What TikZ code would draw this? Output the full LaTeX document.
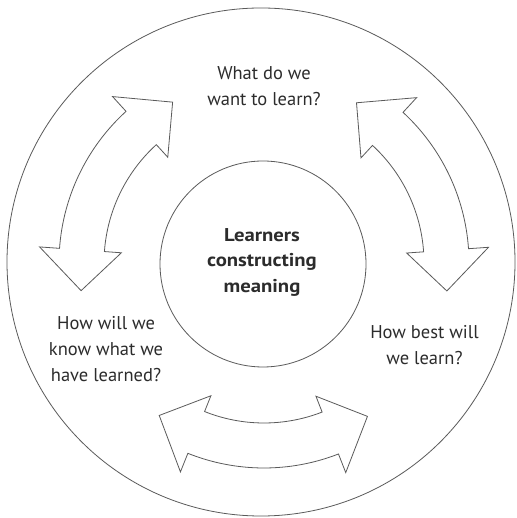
\documentclass[tikz,border=0pt]{standalone}
\usepackage{fontspec}
\setmainfont{PT Sans}
\newfontfamily\corefont[FakeStretch=1.12]{PT Sans Bold}
\definecolor{linegray}{HTML}{5A5A5A}
\definecolor{textgray}{HTML}{2C2C2C}
\tikzset{
  arrowline/.style={draw=linegray, line width=0.8pt, line join=miter},
  ringline/.style={draw=linegray, line width=0.8pt},
  question/.style={align=center, text=textgray, font=\fontsize{18.5}{26}\selectfont, inner sep=0pt},
  core/.style={align=center, text=textgray, font=\corefont\fontsize{18.5}{25.5}\selectfont, inner sep=0pt}
}
\newcommand{\dblarc}[2]{%
  \draw[arrowline] (#1:205pt) -- (#1:225pt) -- ({#1-12.7}:185pt) -- (#1:143pt) -- (#1:160pt)
    arc[start angle=#1, end angle=#2, radius=160pt] -- (#2:143pt) -- ({#2+12.7}:185pt)
    -- (#2:225pt) -- (#2:205pt)
    arc[start angle=#2, end angle=#1, radius=205pt] -- cycle;}
\begin{document}
\begin{tikzpicture}[x=1pt, y=1pt]
  \useasboundingbox (0,0) rectangle (516,518);
  \fill[white] (0,0) rectangle (516,518);
  \draw[ringline] (261,256) circle[radius=254pt];
  \node[circle, ringline, minimum size=206pt, inner sep=0pt] (centre) at (263,254) {};
  \node[core] (meaning) at (262,256) {Learners\\constructing\\meaning};
  \node[question] (what) at (264,431.5) {What do we\\want to learn?};
  \node[question] (how) at (424.5,173) {How best will\\we learn?};
  \node[question] (know) at (106,169) {How will we\\know what we\\have learned?};
  \begin{scope}[shift={(264,255)}]
    \dblarc{132.3}{175.9}
    \dblarc{4}{47.3}
    \dblarc{248.2}{291.3}
  \end{scope}
\end{tikzpicture}
\end{document}
